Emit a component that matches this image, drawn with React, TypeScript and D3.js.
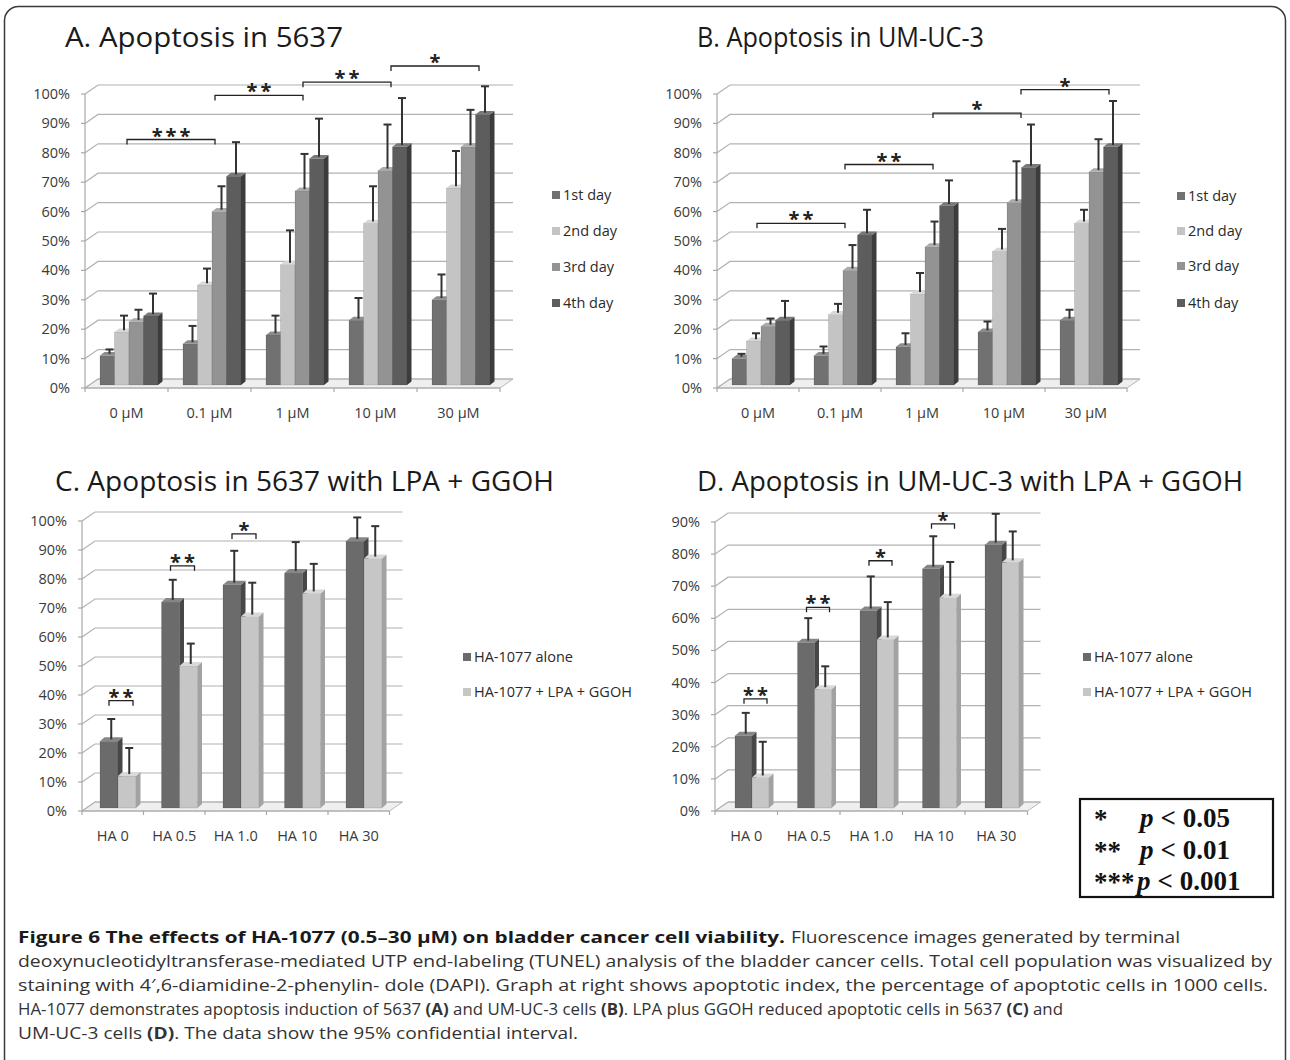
import { useEffect } from 'react';
import * as d3 from 'd3';

// categories
const doseCats = ['0 µM', '0.1 µM', '1 µM', '10 µM', '30 µM'];
const haCats = ['HA 0', 'HA 0.5', 'HA 1.0', 'HA 10', 'HA 30'];
const dayNames = ['1st day', '2nd day', '3rd day', '4th day'];
const treatNames = ['HA-1077 alone', 'HA-1077 + LPA + GGOH'];

// A. 5637 (% apoptotic cells, upper CI)
const a1st = [10, 14, 17, 22, 29];
const a1stErr = [11.5, 19.5, 23, 29, 37];
const a2nd = [18, 34, 41, 55, 67];
const a2ndErr = [23, 39, 52, 67, 79];
const a3rd = [21.5, 59, 66, 73, 81];
const a3rdErr = [25, 67, 78, 88, 93];
const a4th = [23.5, 71, 77, 81, 92];
const a4thErr = [30.5, 82, 90, 97, 101];

// B. UM-UC-3
const b1st = [9, 10, 13, 18, 22];
const b1stErr = [10, 12.5, 17, 21, 25];
const b2nd = [15, 24, 31, 45.5, 55];
const b2ndErr = [17, 27, 37.5, 52.5, 59];
const b3rd = [20, 39, 47, 62, 72.5];
const b3rdErr = [22, 47, 55, 75.5, 83];
const b4th = [22, 51, 61, 74, 81];
const b4thErr = [28, 59, 69, 88, 96];

// C. 5637 with LPA + GGOH
const cAlone = [23, 71, 77, 81, 92];
const cAloneErr = [30, 78, 88, 91, 99.5];
const cLpa = [11, 49, 66, 74, 86];
const cLpaErr = [20, 56, 77, 83.5, 96.5];

// D. UM-UC-3 with LPA + GGOH
const dAlone = [22.5, 51.5, 61.5, 74.5, 82];
const dAloneErr = [29, 58.5, 71.5, 84, 91];
const dLpa = [9.5, 37, 52.5, 65.5, 76.5];
const dLpaErr = [20, 43.5, 63.5, 76, 85.5];

// significance brackets: [from, to, level, label]
const aBrackets: [number, number, number, string][] = [[0, 1, 83.5, '***'], [1, 2, 98.5, '**'], [2, 3, 103, '**'], [3, 4, 108.5, '*']];
const bBrackets: [number, number, number, string][] = [[0, 1, 55, '**'], [1, 2, 75, '**'], [2, 3, 92.5, '*'], [3, 4, 100.5, '*']];
const cBrackets: [number, number, number, string][] = [[0, 0, 37, '**'], [1, 1, 83.5, '**'], [2, 2, 94.5, '*']];
const dBrackets: [number, number, number, string][] = [[0, 0, 34, '**'], [1, 1, 62.5, '**'], [2, 2, 77, '*'], [3, 3, 88.5, '*']];

const dayColors = [
  { front: '#717171', side: '#4e4e4e', top: '#8c8c8c' },
  { front: '#c4c4c4', side: '#a0a0a0', top: '#d8d8d8' },
  { front: '#939393', side: '#6f6f6f', top: '#ababab' },
  { front: '#5d5d5d', side: '#3c3c3c', top: '#787878' },
];
const treatColors = [
  { front: '#6b6b6b', side: '#474747', top: '#868686' },
  { front: '#c6c6c6', side: '#a2a2a2', top: '#d9d9d9' },
];

const FONT = "'Open Sans', 'DejaVu Sans', sans-serif";

type Series = { name: string; values: number[]; errors: number[]; front: string; side: string; top: string };

interface PanelCfg {
  title: string; titleX: number; titleY: number; titleLen: number;
  cats: string[]; series: Series[];
  x0: number; y0: number; yTopPx: number; yMax: number;
  bw: number; offL: number; barW: number; barD: [number, number];
  legendX: number; legendYs: number[];
  brackets: [number, number, number, string][];
  bracketRange?: [number, number];
}

const wall = [13, -9];
const barShift = -3;

function Panel({ cfg }: { cfg: PanelCfg }) {
  const { cats, series, x0, y0, yTopPx, yMax, bw, offL, barW, barD } = cfg;
  const xEnd = x0 + cats.length * bw;
  const x = d3.scaleBand<string>().domain(cats).range([x0, xEnd]).padding(0);
  const xs = d3.scaleBand<string>().domain(series.map(s => s.name))
    .range([offL, offL + series.length * barW]).padding(0);
  const y = d3.scaleLinear().domain([0, yMax]).range([y0, yTopPx]);
  const yb = (v: number) => y(v) + barShift;
  const ticks = d3.range(0, yMax + 0.1, 10);
  const [wdx, wdy] = wall;
  const [bdx, bdy] = barD;
  const bx = cfg.bracketRange
    ? d3.scaleLinear().domain([0, cats.length - 1]).range(cfg.bracketRange)
    : null;

  return (
    <g>
      <text x={cfg.titleX} y={cfg.titleY} fontFamily={FONT} fontSize={27} fill="#1a1a1a"
        textLength={cfg.titleLen} lengthAdjust="spacingAndGlyphs">{cfg.title}</text>

      {/* floor */}
      <polygon points={`${x0},${y0} ${xEnd},${y0} ${xEnd + wdx},${y0 + wdy} ${x0 + wdx},${y0 + wdy}`}
        fill="#efefef" stroke="#b8b8b8" strokeWidth={1} />

      {/* grid lines on back wall */}
      {ticks.map(t => (
        <g key={t}>
          <polyline points={`${x0},${y(t)} ${x0 + wdx},${y(t) + wdy} ${xEnd + wdx},${y(t) + wdy}`}
            fill="none" stroke="#b2b2b2" strokeWidth={1.2} />
          <line x1={x0 - 4} x2={x0} y1={y(t)} y2={y(t)} stroke="#a8a8a8" strokeWidth={1.2} />
          <text x={x0 - 15} y={y(t) + 5} textAnchor="end" fontFamily={FONT} fontSize={14.5} fill="#3a3a3a">
            {`${t}%`}
          </text>
        </g>
      ))}
      <line x1={x0} x2={x0} y1={y0} y2={y(yMax)} stroke="#a8a8a8" strokeWidth={1.2} />
      <line x1={x0} x2={xEnd} y1={y0} y2={y0} stroke="#a8a8a8" strokeWidth={1.2} />
      {d3.range(cats.length + 1).map(i => (
        <line key={i} x1={x0 + i * bw} x2={x0 + i * bw} y1={y0} y2={y0 + 4} stroke="#a8a8a8" strokeWidth={1.2} />
      ))}

      {/* bars */}
      {cats.map((c, ci) => series.map(s => {
        const left = (x(c) ?? 0) + (xs(s.name) ?? 0);
        const right = left + barW;
        const top = yb(s.values[ci]);
        const base = y0 + barShift;
        return (
          <g key={c + s.name}>
            <rect x={left} y={top} width={barW} height={base - top} fill={s.front}
              stroke="rgba(0,0,0,0.18)" strokeWidth={0.6} />
            <polygon points={`${right},${top} ${right + bdx},${top + bdy} ${right + bdx},${base + bdy} ${right},${base}`}
              fill={s.side} />
            <polygon points={`${left},${top} ${left + bdx},${top + bdy} ${right + bdx},${top + bdy} ${right},${top}`}
              fill={s.top} />
          </g>
        );
      }))}

      {/* error bars */}
      {cats.map((c, ci) => series.map(s => {
        const ex = (x(c) ?? 0) + (xs(s.name) ?? 0) + barW / 2 + bdx / 2;
        const y1 = yb(s.values[ci]) + bdy / 2;
        const y2 = yb(s.errors[ci]) + bdy / 2;
        return (
          <g key={'e' + c + s.name} stroke="#333" strokeWidth={2}>
            <line x1={ex} x2={ex} y1={y1} y2={y2} />
            <line x1={ex - 4} x2={ex + 4} y1={y2} y2={y2} />
          </g>
        );
      }))}

      {/* significance brackets */}
      {cfg.brackets.map(([f, t, lvl, lab], i) => {
        let xa: number, xb: number;
        if (bx) {
          xa = bx(f); xb = bx(t);
        } else {
          xa = (x(cats[f]) ?? 0) + (xs(series[0].name) ?? 0) + 9;
          xb = (x(cats[t]) ?? 0) + (xs(series[1].name) ?? 0) + 15;
        }
        const by = yb(lvl);
        return (
          <g key={'b' + i}>
            <polyline points={`${xa},${by + 5} ${xa},${by} ${xb},${by} ${xb},${by + 5}`}
              fill="none" stroke="#222" strokeWidth={1.3} />
            <text x={(xa + xb) / 2 + 1.5} y={by + 3} textAnchor="middle" fontFamily={FONT}
              fontWeight={700} fontSize={20} letterSpacing={3} fill="#222">{lab}</text>
          </g>
        );
      })}

      {/* category labels */}
      {cats.map(c => (
        <text key={'c' + c} x={(x(c) ?? 0) + bw / 2} y={y0 + 30} textAnchor="middle"
          fontFamily={FONT} fontSize={14.5} fill="#3a3a3a">{c}</text>
      ))}

      {/* legend */}
      {series.map((s, i) => (
        <g key={'l' + s.name}>
          <rect x={cfg.legendX} y={cfg.legendYs[i] - 4} width={8} height={8} fill={s.front} />
          <text x={cfg.legendX + 11} y={cfg.legendYs[i] + 5} fontFamily={FONT} fontSize={14.5} fill="#2a2a2a">
            {s.name}
          </text>
        </g>
      ))}
    </g>
  );
}

const mk = (names: string[], vals: number[][], errs: number[][], cols: typeof dayColors): Series[] =>
  names.map((n, i) => ({ name: n, values: vals[i], errors: errs[i], ...cols[i] }));

const panels: PanelCfg[] = [
  {
    title: 'A. Apoptosis in 5637', titleX: 65, titleY: 47, titleLen: 278,
    cats: doseCats,
    series: mk(dayNames, [a1st, a2nd, a3rd, a4th], [a1stErr, a2ndErr, a3rdErr, a4thErr], dayColors),
    x0: 85, y0: 388, yTopPx: 94, yMax: 100, bw: 83, offL: 15, barW: 14.5, barD: [4.5, -3.5],
    legendX: 552, legendYs: [195, 231, 267, 303], brackets: aBrackets, bracketRange: [127, 479],
  },
  {
    title: 'B. Apoptosis in UM-UC-3', titleX: 697, titleY: 47, titleLen: 287,
    cats: doseCats,
    series: mk(dayNames, [b1st, b2nd, b3rd, b4th], [b1stErr, b2ndErr, b3rdErr, b4thErr], dayColors),
    x0: 717, y0: 388, yTopPx: 94, yMax: 100, bw: 82, offL: 15, barW: 14.5, barD: [4.5, -3.5],
    legendX: 1177, legendYs: [196, 231, 266, 303], brackets: bBrackets, bracketRange: [757, 1109],
  },
  {
    title: 'C. Apoptosis in 5637 with LPA + GGOH', titleX: 55, titleY: 491, titleLen: 499,
    cats: haCats,
    series: mk(treatNames, [cAlone, cLpa], [cAloneErr, cLpaErr], treatColors),
    x0: 82, y0: 811, yTopPx: 521, yMax: 100, bw: 61.5, offL: 18, barW: 18, barD: [4.5, -4],
    legendX: 463, legendYs: [657, 692], brackets: cBrackets,
  },
  {
    title: 'D. Apoptosis in UM-UC-3 with LPA + GGOH', titleX: 697, titleY: 491, titleLen: 546,
    cats: haCats,
    series: mk(treatNames, [dAlone, dLpa], [dAloneErr, dLpaErr], treatColors),
    x0: 715, y0: 811, yTopPx: 522, yMax: 90, bw: 62.5, offL: 20, barW: 17, barD: [4.5, -4],
    legendX: 1083, legendYs: [657, 692], brackets: dBrackets,
  },
];

const pRows = [['*', 'p', '< 0.05'], ['**', 'p', '< 0.01'], ['***', 'p', '< 0.001']];
const pBase = [827, 859, 890];

const CAP = "'Open Sans', 'DejaVu Sans', sans-serif";

export default function App() {
  useEffect(() => {
    document.body.style.margin = '0';
  }, []);

  return (
    <svg width={1290} height={1060} style={{ display: 'block', background: '#fff' }}>
      <rect x={4.5} y={6.5} width={1281} height={1100} rx={14} fill="#fff" stroke="#3a3a3a" strokeWidth={1.5} />

      {panels.map(p => <Panel key={p.title} cfg={p} />)}

      {/* p-value key */}
      <rect x={1080} y={799} width={193} height={98} fill="#fff" stroke="#111" strokeWidth={2.2} />
      {pRows.map((r, i) => (
        <g key={r[0]} fontFamily="'Liberation Serif', 'Times New Roman', serif" fontWeight={700} fontSize={27} fill="#111">
          <text x={1094} y={pBase[i] + 1}>{r[0]}</text>
          <text x={i === 2 ? 1137 : 1140} y={pBase[i]}>
            <tspan fontStyle="italic">{r[1]}</tspan>
            <tspan dx={7}>{r[2]}</tspan>
          </text>
        </g>
      ))}

      {/* caption */}
      <g fontFamily={CAP} fontSize={16.5} fill="#333">
        <text x={18} y={943} fontWeight={700} fill="#1a1a1a" textLength={767} lengthAdjust="spacingAndGlyphs">
          Figure 6 The effects of HA-1077 (0.5–30 μM) on bladder cancer cell viability.
        </text>
        <text x={791} y={943} textLength={389} lengthAdjust="spacingAndGlyphs">
          Fluorescence images generated by terminal
        </text>
        <text x={18} y={967} textLength={1254} lengthAdjust="spacingAndGlyphs">
          deoxynucleotidyltransferase-mediated UTP end-labeling (TUNEL) analysis of the bladder cancer cells. Total cell population was visualized by
        </text>
        <text x={18} y={991} textLength={1250} lengthAdjust="spacingAndGlyphs">
          staining with 4′,6-diamidine-2-phenylin- dole (DAPI). Graph at right shows apoptotic index, the percentage of apoptotic cells in 1000 cells.
        </text>
        <text x={18} y={1015} textLength={1045} lengthAdjust="spacingAndGlyphs">
          HA-1077 demonstrates apoptosis induction of 5637 <tspan fontWeight={700}>(A)</tspan> and UM-UC-3 cells <tspan fontWeight={700}>(B)</tspan>. LPA plus GGOH reduced apoptotic cells in 5637 <tspan fontWeight={700}>(C)</tspan> and
        </text>
        <text x={18} y={1039} textLength={560} lengthAdjust="spacingAndGlyphs">
          UM-UC-3 cells <tspan fontWeight={700}>(D)</tspan>. The data show the 95% confidential interval.
        </text>
      </g>
    </svg>
  );
}
